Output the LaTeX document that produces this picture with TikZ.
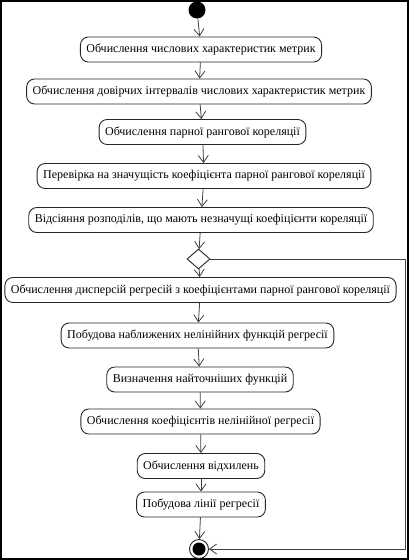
\documentclass[tikz,border=0pt]{standalone}
\usepackage{fontspec}
\setmainfont{Liberation Serif}
\usetikzlibrary{shapes.geometric,arrows.meta}
\begin{document}
\begin{tikzpicture}[x=1pt,y=-1pt,
  act/.style={draw=black!85, line width=0.9pt, rounded corners=8pt, minimum height=25pt, inner xsep=6pt, inner ysep=0pt, font=\fontsize{12}{14}\selectfont},
  arr/.style={draw=black!75, line width=0.8pt, -{Straight Barb[length=7pt,width=10pt]}},
  ]
\useasboundingbox (0,0) rectangle (409,560);
\draw[line width=2pt] (1,1) rectangle (408,559);
\node[circle, fill=black, inner sep=0pt, minimum size=17pt] (start) at (197,10) {};
\node[act] (a1) at (201,49.5) {Обчислення числових характеристик метрик};
\node[act] (a2) at (199,91.5) {Обчислення довірчих інтервалів числових характеристик метрик};
\node[act] (a3) at (202.5,132) {Обчислення парної рангової кореляції};
\node[act] (a4) at (204,176) {Перевірка на значущість коефіцієнта парної рангової кореляції};
\node[act] (a5) at (201,220) {Відсіяння розподілів, що мають незначущі коефіцієнти кореляції};
\node[diamond, draw=black!85, line width=0.9pt, minimum width=23pt, minimum height=20pt, inner sep=0pt] (dec) at (198.5,259) {};
\node[act] (a6) at (200.5,290) {Обчислення дисперсій регресій з коефіцієнтами парної рангової кореляції};
\node[act] (a7) at (197.5,335.5) {Побудова наближених нелінійних функцій регресії};
\node[act] (a8) at (200,379.5) {Визначення найточніших функцій};
\node[act] (a9) at (200.5,421.5) {Обчислення коефіцієнтів нелінійної регресії};
\node[act] (a10) at (201,466) {Обчислення відхилень};
\node[act] (a11) at (201,504.5) {Побудова лінії регресії};
\node[circle, draw=black!85, line width=0.9pt, minimum size=19pt, inner sep=0pt] (end) at (199,549) {};
\fill (end.center) circle (6.5pt);
\coordinate (r1) at (405,259);
\coordinate (r2) at (405,549);
\draw[arr] (start) -- (a1);
\draw[arr] (a1) -- (a2);
\draw[arr] (a2) -- (a3);
\draw[arr] (a3) -- (a4);
\draw[arr] (a4) -- (a5);
\draw[arr] (a5) -- (dec);
\draw[arr] (dec) -- (a6);
\draw[arr] (a6) -- (a7);
\draw[arr] (a7) -- (a8);
\draw[arr] (a8) -- (a9);
\draw[arr] (a9) -- (a10);
\draw[arr] (a10) -- (a11);
\draw[arr] (a11) -- (end);
\draw[arr] (dec.east) -- (r1) -- (r2) -- (end);
\end{tikzpicture}
\end{document}
